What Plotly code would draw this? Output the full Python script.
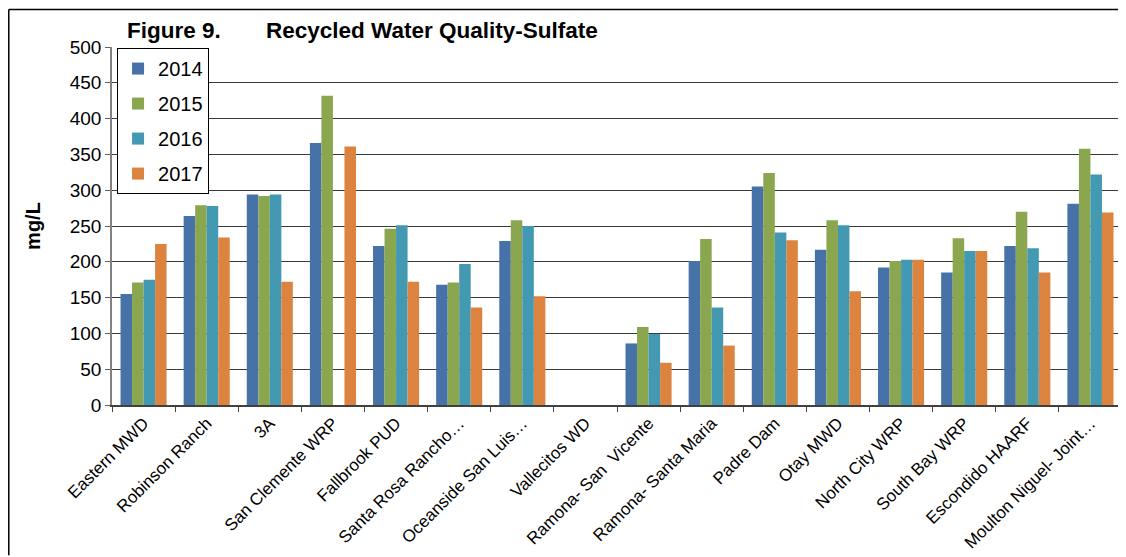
import plotly.graph_objects as go

categories = ["Eastern MWD", "Robinson Ranch", "3A", "San Clemente WRP", "Fallbrook PUD",
              "Santa Rosa Rancho…", "Oceanside San Luis…", "Vallecitos WD", "Ramona- San  Vicente",
              "Ramona- Santa Maria", "Padre Dam", "Otay MWD", "North City WRP", "South Bay WRP",
              "Escondido HAARF", "Moulton Niguel- Joint…"]

y2014 = [155, 264, 294, 366, 222, 168, 229, None, 86, 201, 305, 217, 192, 185, 222, 281]
y2015 = [171, 279, 292, 432, 246, 171, 258, None, 109, 232, 324, 258, 201, 233, 270, 358]
y2016 = [175, 278, 294, None, 251, 197, 250, None, 99, 136, 241, 251, 203, 215, 219, 322]
y2017 = [225, 234, 172, 361, 172, 136, 152, None, 59, 83, 230, 159, 203, 215, 185, 269]

series = [("2014", y2014, "#4672A8"), ("2015", y2015, "#8AA64F"),
          ("2016", y2016, "#4299B1"), ("2017", y2017, "#DC843F")]

fig = go.Figure()
for name, vals, col in series:
    fig.add_trace(go.Bar(x=categories, y=vals, name=name, legendgroup=name,
                         marker=dict(color=col, line=dict(width=0))))

fig.update_layout(
    width=1118, height=549,
    margin=dict(l=104, r=4, t=39, b=152, autoexpand=False),
    paper_bgcolor="white", plot_bgcolor="white",
    bargap=0.27, bargroupgap=0,
    font=dict(family="Arial, Liberation Sans, sans-serif", color="black"),
    showlegend=True,
    legend=dict(x=0.005, y=0.997, xanchor="left", yanchor="top",
                bordercolor="black", borderwidth=1, bgcolor="white",
                font=dict(size=20), traceorder="grouped", tracegroupgap=6,
                itemwidth=30),
    xaxis=dict(type="category", tickangle=-45, tickfont=dict(size=17),
               ticks="outside", tickson="boundaries", ticklen=5, tickcolor="#404040",
               showline=True, linecolor="#404040", linewidth=1.5, mirror=False,
               showgrid=False, automargin=False),
    yaxis=dict(range=[0, 500], dtick=50, tickfont=dict(size=19),
               ticks="outside", ticklen=5, tickcolor="#606060",
               showline=True, linecolor="#808080", linewidth=1.5,
               showgrid=True, gridcolor="#3a3a3a", gridwidth=1.2, zeroline=False,
               automargin=False,
               title=dict(text="<b>mg/L</b>", font=dict(size=20), standoff=24)),
    shapes=[
        dict(type="line", xref="paper", yref="paper", x0=1, x1=1, y0=0, y1=1,
             line=dict(color="#8a8a8a", width=2)),
        dict(type="line", xref="paper", yref="paper", x0=-0.1022, x1=1.01, y0=1.105, y1=1.105,
             line=dict(color="black", width=1.5)),
        dict(type="line", xref="paper", yref="paper", x0=-0.1022, x1=-0.1022, y0=1.105, y1=-0.42,
             line=dict(color="black", width=1.5)),
    ],
    annotations=[
        dict(text="<b>Figure 9.</b>", xref="paper", yref="paper", x=0.0129, y=1.045,
             xanchor="left", yanchor="middle", showarrow=False, font=dict(size=22.5)),
        dict(text="<b>Recycled Water Quality-Sulfate</b>", xref="paper", yref="paper",
             x=0.1505, y=1.045, xanchor="left", yanchor="middle", showarrow=False,
             font=dict(size=22.5)),
    ],
)

fig.write_html("out.html")
